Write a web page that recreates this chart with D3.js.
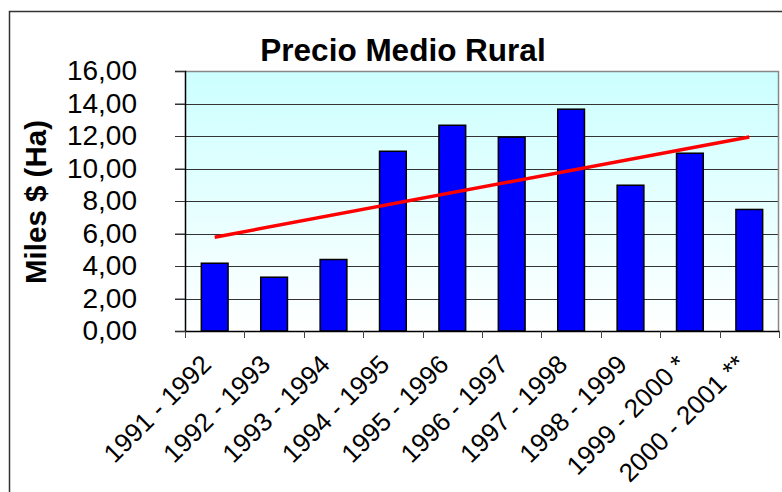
<!DOCTYPE html>
<html>
<head>
<meta charset="utf-8">
<script src="https://cdn.jsdelivr.net/npm/d3@7"></script>
<style>
  body { margin: 0; background: #fff; }
  text { font-family: "Liberation Sans", Arial, sans-serif; }
</style>
</head>
<body>
<div id="chart"></div>
<script>
// data
var periods = ["1991 - 1992","1992 - 1993","1993 - 1994","1994 - 1995","1995 - 1996",
               "1996 - 1997","1997 - 1998","1998 - 1999","1999 - 2000 *","2000 - 2001 **"];
var precios = [4.17, 3.31, 4.40, 11.06, 12.66, 11.93, 13.65, 8.97, 10.94, 7.48];
var yTicks = [0, 2, 4, 6, 8, 10, 12, 14, 16];

var W = 782, H = 492;
var margin = {top: 71, right: 3, bottom: 161, left: 185};
var width = W - margin.left - margin.right,
    height = H - margin.top - margin.bottom;

var svgRoot = d3.select("#chart").append("svg")
    .attr("width", W)
    .attr("height", H);

// outer frame (runs off the right and bottom edges)
svgRoot.append("rect")
    .attr("x", 9.5).attr("y", 11.5)
    .attr("width", 820).attr("height", 520)
    .style("fill", "#fff")
    .style("stroke", "#333")
    .style("stroke-width", 1.5);

var defs = svgRoot.append("defs");
var grad = defs.append("linearGradient")
    .attr("id", "bg").attr("x1", 0).attr("y1", 0).attr("x2", 0).attr("y2", 1);
grad.append("stop").attr("offset", "0%").attr("stop-color", "#ccffff");
grad.append("stop").attr("offset", "100%").attr("stop-color", "#ffffff");

var svg = svgRoot.append("g")
    .attr("transform", "translate(" + margin.left + "," + margin.top + ")");

var x = d3.scaleBand().domain(periods).range([0, width]).padding(0),
    y = d3.scaleLinear().domain([0, 16]).range([height, 0]);

// plot background
svg.append("rect")
    .attr("width", width).attr("height", height)
    .style("fill", "url(#bg)");

// gridlines + left ticks
svg.append("g")
    .selectAll("line")
    .data(yTicks.filter(function(d) { return d > 0 && d < 16; }))
    .enter().append("line")
    .attr("x1", -10).attr("x2", width)
    .attr("y1", function(d) { return Math.round(y(d)) + 0.5; })
    .attr("y2", function(d) { return Math.round(y(d)) + 0.5; })
    .style("stroke", "#333")
    .style("stroke-width", 1);

// plot border (top / right grey)
svg.append("path")
    .attr("d", "M0," + 0.5 + "H" + (width - 0.5) + "V" + height)
    .style("fill", "none")
    .style("stroke", "#888")
    .style("stroke-width", 1.5);

// y axis
var yAxis = svg.append("g")
    .call(d3.axisLeft(y)
      .tickValues(yTicks)
      .tickSize(10)
      .tickPadding(38)
      .tickFormat(function(d) { return d3.format(".2f")(d).replace(".", ","); }));
yAxis.select(".domain").style("stroke", "#000").style("stroke-width", 1.5);
yAxis.selectAll(".tick line").style("stroke", "#333");
yAxis.selectAll("text")
    .style("font-size", "28px")
    .style("fill", "#000");

// bars
var barW = x.bandwidth() * 0.45;
svg.append("g")
    .selectAll("rect")
    .data(precios)
    .enter().append("rect")
    .attr("x", function(d, i) { return x(periods[i]) + (x.bandwidth() - barW) / 2; })
    .attr("y", function(d) { return y(d); })
    .attr("width", barW)
    .attr("height", function(d) { return height - y(d); })
    .style("fill", "#0000ff")
    .style("stroke", "#000")
    .style("stroke-width", 1.5);

// x axis
var xAxis = svg.append("g")
    .attr("transform", "translate(0," + height + ")")
    .call(d3.axisBottom(x).tickSize(0).tickFormat(""));
xAxis.select(".domain").style("stroke", "#000").style("stroke-width", 1.5);

// ticks between categories
svg.append("g")
    .selectAll("line")
    .data(d3.range(periods.length + 1))
    .enter().append("line")
    .attr("x1", function(i) { return Math.round(i * x.step()) + 0.5; })
    .attr("x2", function(i) { return Math.round(i * x.step()) + 0.5; })
    .attr("y1", height).attr("y2", height + 7)
    .style("stroke", "#444");

// category labels, rotated
svg.append("g")
    .selectAll("text")
    .data(periods)
    .enter().append("text")
    .attr("transform", function(d) {
      return "translate(" + (x(d) + x.bandwidth() / 2 - 2) + "," + (height + 35) + ") rotate(-45)";
    })
    .attr("text-anchor", "end")
    .style("font-size", "26px")
    .text(function(d) { return d; });

// linear trend (least squares over the bar values)
var n = precios.length,
    mx = d3.mean(d3.range(n)),
    my = d3.mean(precios);
var slope = d3.sum(precios, function(v, i) { return (i - mx) * (v - my); }) /
            d3.sum(d3.range(n), function(i) { return (i - mx) * (i - mx); });
var trend = [0, n - 1].map(function(i) { return {i: i, v: my + slope * (i - mx)}; });

var lineTrend = d3.line()
    .x(function(d) { return x(periods[d.i]) + x.bandwidth() / 2; })
    .y(function(d) { return y(d.v); });

svg.append("path")
    .datum(trend)
    .attr("d", lineTrend)
    .style("fill", "none")
    .style("stroke", "#ff0000")
    .style("stroke-width", 3.5);

// title
svgRoot.append("text")
    .attr("x", 403).attr("y", 61)
    .attr("text-anchor", "middle")
    .style("font-size", "31.5px")
    .style("font-weight", "bold")
    .text("Precio Medio Rural");

// y title
svgRoot.append("text")
    .attr("transform", "translate(46,202) rotate(-90)")
    .attr("text-anchor", "middle")
    .style("font-size", "29.5px")
    .style("font-weight", "bold")
    .text("Miles $ (Ha)");
</script>
</body>
</html>
